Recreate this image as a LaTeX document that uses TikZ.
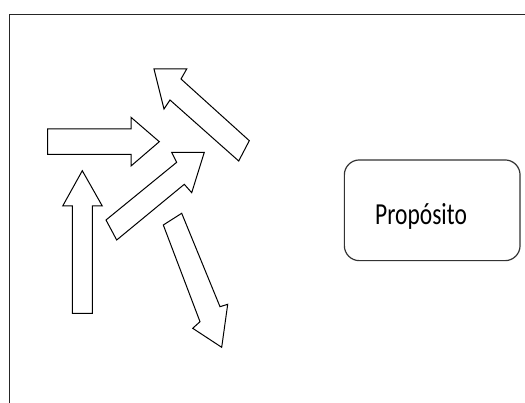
\documentclass[tikz,border=0pt]{standalone}
\usepackage{fontspec}
\setmainfont{Carlito}
\begin{document}
\begin{tikzpicture}[x=1pt,y=-1pt,
  blockarrow/.style={draw=black,line width=1pt,line join=miter,fill=white},
  framebox/.style={draw=black!85,line width=1.4pt},
  purpose/.style={draw=black!80,line width=1.2pt,rounded corners=15pt,minimum width=175.7pt,minimum height=100.7pt,inner sep=0pt}]
\useasboundingbox (0,0) rectangle (525,403);
% outer frame
\draw[framebox] (9.3,410) -- (9.3,14.3) -- (530,14.3);
% arrow pointing right
\draw[blockarrow] (47.7,129) -- (131,129) -- (131,117.3) -- (159.3,141.7) -- (131,166) -- (131,154.3) -- (47.7,154.3) -- cycle;
% arrow pointing up
\draw[blockarrow] (72.3,313.3) -- (72.3,206) -- (62.7,206) -- (82.3,170.7) -- (102.3,206) -- (92.3,206) -- (92.3,313.3) -- cycle;
% arrow pointing up-left
\draw[blockarrow] (154,69) -- (186.7,69) -- (181,79) -- (249.3,140.7) -- (238.7,161) -- (170,100) -- (164,109) -- cycle;
% arrow pointing up-right
\draw[blockarrow] (106,220) -- (176.7,162.3) -- (171.7,152.3) -- (204.3,152.3) -- (191.7,192.7) -- (184.3,184.3) -- (116.7,240) -- cycle;
% arrow pointing down-right
\draw[blockarrow] (163.3,225) -- (181.7,213.3) -- (220,306.7) -- (227.7,304.3) -- (221.7,347.3) -- (192.7,328.3) -- (200,321.7) -- cycle;
% purpose box
\node[purpose] (prop) at (432.2,210.3) {};
\node[anchor=base west,inner sep=0pt] (proptext) at (375,225) {\scalebox{1}[1.3]{\fontsize{23.5}{28}\selectfont Propósito}};
\end{tikzpicture}
\end{document}
